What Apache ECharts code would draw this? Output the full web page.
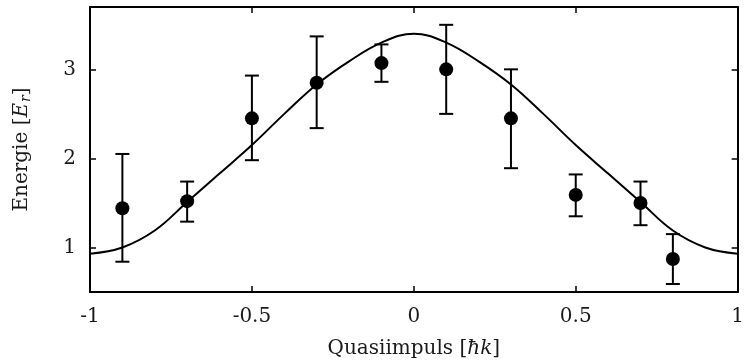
<!DOCTYPE html>
<html>
<head>
<meta charset="utf-8">
<script src="https://cdn.jsdelivr.net/npm/echarts@6/dist/echarts.min.js"></script>
<style>
  html, body { margin: 0; padding: 0; background: #fff; }
  #chart { width: 747px; height: 364px; }
</style>
</head>
<body>
<div id="chart"></div>
<script>
'use strict';

// measured points (quasimomentum, energy) with error bars
var pointK = [-0.9, -0.7, -0.5, -0.3, -0.1, 0.1, 0.3, 0.5, 0.7, 0.8];
var pointE = [1.44, 1.52, 2.45, 2.85, 3.07, 3.00, 2.45, 1.59, 1.50, 0.87];
var errLow = [0.84, 1.29, 1.98, 2.34, 2.86, 2.50, 1.89, 1.35, 1.25, 0.59];
var errHigh = [2.05, 1.74, 2.93, 3.37, 3.28, 3.50, 3.00, 1.82, 1.74, 1.15];

// band curve
var curveK = [-1, -0.9, -0.8, -0.7, -0.6, -0.5, -0.4, -0.3, -0.2, -0.1, 0,
              0.1, 0.2, 0.3, 0.4, 0.5, 0.6, 0.7, 0.8, 0.9, 1];
var curveE = [0.93, 1.00, 1.19, 1.51, 1.83, 2.15, 2.50, 2.83, 3.09, 3.30, 3.40,
              3.30, 3.09, 2.83, 2.50, 2.15, 1.83, 1.51, 1.19, 1.00, 0.93];

var yTicks = [1, 2, 3];

var font = '"DejaVu Serif", "Liberation Serif", serif';
var ink = '#1a1a1a';
var fs = 20;

var scatterData = [];
var errData = [];
for (var i = 0; i < pointK.length; i++) {
    scatterData.push([pointK[i], pointE[i]]);
    errData.push([pointK[i], errLow[i], errHigh[i]]);
}
var curveData = [];
for (var j = 0; j < curveK.length; j++) {
    curveData.push([curveK[j], curveE[j]]);
}

function xAxisDef(pos, labels) {
    return {
        type: 'value', position: pos, min: -1, max: 1, interval: 0.5,
        axisLine: { show: true, onZero: false, lineStyle: { color: '#000', width: 2 } },
        axisTick: { show: true, inside: true, length: 6, lineStyle: { color: '#000', width: 1.5 } },
        axisLabel: {
            show: labels, margin: 15, fontFamily: font, fontSize: fs, color: ink,
            formatter: function (v) { return String(v); }
        },
        splitLine: { show: false },
        name: labels ? '{a|Quasiimpuls [}{i|ħk}{a|]}' : '',
        nameLocation: 'middle', nameGap: 47,
        nameTextStyle: {
            rich: {
                a: { fontFamily: font, fontSize: fs, color: ink },
                i: { fontFamily: font, fontSize: fs, color: ink, fontStyle: 'italic' }
            }
        }
    };
}

function yAxisDef(pos, labels) {
    return {
        type: 'value', position: pos, min: 0.5, max: 3.7,
        axisLine: { show: true, onZero: false, lineStyle: { color: '#000', width: 2 } },
        axisTick: { show: true, inside: true, length: 6, customValues: yTicks, lineStyle: { color: '#000', width: 1.5 } },
        axisLabel: { show: labels, margin: 14, customValues: yTicks, fontFamily: font, fontSize: fs, color: ink },
        splitLine: { show: false },
        name: labels ? '{a|Energie [}{i|E}{s|r}{a|]}' : '',
        nameLocation: 'middle', nameGap: 57, nameRotate: 90,
        nameTextStyle: {
            rich: {
                a: { fontFamily: font, fontSize: fs, color: ink },
                i: { fontFamily: font, fontSize: fs, color: ink, fontStyle: 'italic' },
                s: { fontFamily: font, fontSize: 14, color: ink, fontStyle: 'italic', padding: [9, 0, 0, 1] }
            }
        }
    };
}

var chart = echarts.init(document.getElementById('chart'), null, { renderer: 'canvas' });

chart.setOption({
    animation: false,
    backgroundColor: '#fff',
    grid: { left: 90, right: 5, top: 7, bottom: 72 },
    xAxis: [xAxisDef('bottom', true), xAxisDef('top', false)],
    yAxis: [yAxisDef('left', true), yAxisDef('right', false)],
    series: [
        {
            type: 'line',
            data: curveData,
            smooth: 0.4,
            showSymbol: false,
            lineStyle: { color: '#000', width: 2 },
            z: 2
        },
        {
            type: 'custom',
            data: errData,
            renderItem: function (params, api) {
                var x = api.value(0);
                var top = api.coord([x, api.value(2)]);
                var bot = api.coord([x, api.value(1)]);
                var w = 7;
                var st = { stroke: '#000', lineWidth: 2 };
                return {
                    type: 'group',
                    children: [
                        { type: 'line', shape: { x1: top[0], y1: top[1], x2: bot[0], y2: bot[1] }, style: st },
                        { type: 'line', shape: { x1: top[0] - w, y1: top[1], x2: top[0] + w, y2: top[1] }, style: st },
                        { type: 'line', shape: { x1: bot[0] - w, y1: bot[1], x2: bot[0] + w, y2: bot[1] }, style: st }
                    ]
                };
            },
            z: 3
        },
        {
            type: 'scatter',
            data: scatterData,
            symbol: 'circle',
            symbolSize: 14,
            itemStyle: { color: '#000', opacity: 1 },
            z: 4
        }
    ]
});
</script>
</body>
</html>
